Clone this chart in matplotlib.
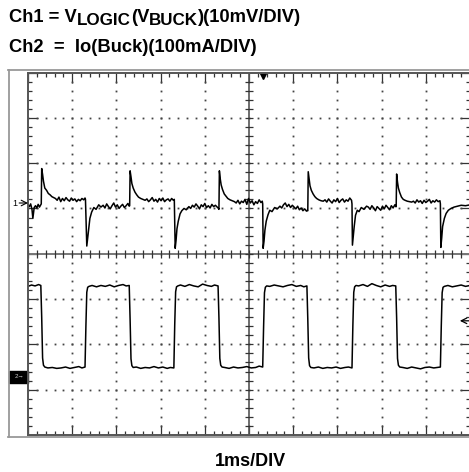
"""
Scope capture: Ch1 = V_LOGIC ripple, Ch2 = buck load current step.
"""

import numpy as np
import matplotlib
matplotlib.use('Agg')
import matplotlib.pyplot as plt
from matplotlib.lines import Line2D
from matplotlib.patches import Rectangle
from matplotlib.ticker import MultipleLocator

plt.rcParams['font.family'] = ['Liberation Sans', 'DejaVu Sans']

W, H = 469, 472  # pixels

# --- data, in divisions (x: 1 div = 1 ms, y: center line = 0) ---
ch1_t = [0.00, 0.03, 0.06, 0.09, 0.11, 0.14, 0.17, 0.20, 0.23, 0.26, 0.29,
         0.30, 0.31, 0.33, 0.35, 0.38, 0.42, 0.46, 0.50, 0.54, 0.58, 0.62,
         0.66, 0.70, 0.74, 0.78, 0.82, 0.86, 0.90, 0.94, 0.98, 1.02, 1.06, 1.10, 1.14, 1.18, 1.22, 1.26, 1.29,
         1.30, 1.32, 1.33, 1.35, 1.37, 1.40, 1.44, 1.49, 1.54, 1.60, 1.65,
         1.70, 1.74, 1.78, 1.82, 1.86, 1.90, 1.94, 1.98, 2.02, 2.06, 2.10, 2.14, 2.18, 2.22, 2.26, 2.29,
         2.30, 2.31, 2.33, 2.35, 2.38, 2.42, 2.46, 2.50, 2.55, 2.60, 2.65,
         2.69, 2.73, 2.77, 2.81, 2.85, 2.89, 2.93, 2.97, 3.01, 3.05, 3.09, 3.13, 3.17, 3.21, 3.25, 3.29, 3.31,
         3.32, 3.33, 3.35, 3.37, 3.40, 3.44, 3.48, 3.53, 3.58, 3.64,
         3.68, 3.72, 3.76, 3.80, 3.84, 3.88, 3.92, 3.96, 4.00, 4.04, 4.08, 4.12, 4.16, 4.20, 4.24, 4.28, 4.31,
         4.32, 4.33, 4.35, 4.37, 4.40, 4.44, 4.48, 4.52, 4.57, 4.62, 4.67,
         4.71, 4.75, 4.79, 4.83, 4.87, 4.91, 4.95, 4.99, 5.03, 5.07, 5.11, 5.15, 5.19, 5.23, 5.27, 5.30,
         5.31, 5.32, 5.34, 5.36, 5.39, 5.43, 5.47, 5.52, 5.58, 5.64,
         5.70, 5.74, 5.78, 5.82, 5.86, 5.90, 5.94, 5.98, 6.02, 6.06, 6.10, 6.14, 6.18, 6.22, 6.26, 6.30, 6.32,
         6.33, 6.34, 6.36, 6.38, 6.41, 6.45, 6.49, 6.53, 6.58, 6.63, 6.68,
         6.72, 6.76, 6.80, 6.84, 6.88, 6.92, 6.96, 7.00, 7.04, 7.08, 7.12, 7.16, 7.20, 7.24, 7.28, 7.32,
         7.33, 7.34, 7.36, 7.38, 7.41, 7.45, 7.49, 7.54, 7.60, 7.66,
         7.70, 7.74, 7.78, 7.82, 7.86, 7.90, 7.94, 7.98, 8.02, 8.06, 8.10, 8.14, 8.18, 8.22, 8.26, 8.30, 8.32,
         8.33, 8.34, 8.36, 8.38, 8.41, 8.45, 8.49, 8.53, 8.58, 8.63, 8.68,
         8.72, 8.76, 8.80, 8.84, 8.88, 8.92, 8.96, 9.00, 9.04, 9.08, 9.12, 9.16, 9.20, 9.24, 9.28, 9.32,
         9.33, 9.34, 9.36, 9.38, 9.42, 9.46, 9.51, 9.57, 9.64, 9.72, 9.80, 9.90, 10.0]
ch1_v = [1.08, 1.04, 1.10, 0.98, 0.78, 1.02, 1.06, 1.01, 1.09, 1.03, 1.08,
         1.10, 1.88, 1.75, 1.60, 1.45, 1.40, 1.33, 1.30, 1.26, 1.24, 1.22,
         1.18, 1.25, 1.15, 1.22, 1.17, 1.24, 1.19, 1.16, 1.23, 1.18, 1.21, 1.15, 1.20, 1.17, 1.22, 1.19, 1.23,
         1.20, 0.50, 0.17, 0.35, 0.55, 0.78, 0.92, 1.02, 0.98, 1.08, 1.03,
         1.07, 1.01, 1.10, 1.04, 0.99, 1.06, 1.12, 1.03, 1.08, 1.00, 1.05, 1.09, 1.02, 1.06, 1.11, 1.05,
         1.06, 1.83, 1.70, 1.55, 1.45, 1.36, 1.30, 1.25, 1.22, 1.20, 1.18,
         1.21, 1.15, 1.19, 1.24, 1.16, 1.20, 1.14, 1.22, 1.17, 1.23, 1.15, 1.19, 1.21, 1.16, 1.22, 1.18, 1.20,
         0.70, 0.12, 0.30, 0.55, 0.72, 0.88, 0.95, 1.00, 0.97, 1.04,
         1.00, 1.07, 1.03, 1.10, 1.05, 0.99, 1.08, 1.04, 1.11, 1.02, 1.06, 1.01, 1.09, 1.04, 1.07, 1.03, 1.00,
         0.98, 1.83, 1.65, 1.52, 1.42, 1.32, 1.27, 1.22, 1.19, 1.17, 1.15,
         1.12, 1.18, 1.10, 1.16, 1.13, 1.20, 1.09, 1.22, 1.12, 1.17, 1.08, 1.15, 1.11, 1.19, 1.13, 1.16,
         1.10, 0.12, 0.28, 0.52, 0.72, 0.86, 0.96, 0.93, 1.02, 0.99,
         1.05, 1.01, 1.08, 1.12, 1.04, 1.09, 1.02, 1.07, 1.03, 0.99, 1.05, 0.97, 1.01, 0.95, 0.99, 0.94, 0.96,
         0.95, 1.81, 1.66, 1.50, 1.40, 1.32, 1.26, 1.22, 1.19, 1.17, 1.16,
         1.19, 1.14, 1.21, 1.16, 1.12, 1.19, 1.15, 1.22, 1.13, 1.18, 1.21, 1.14, 1.19, 1.16, 1.23, 1.18,
         1.10, 0.19, 0.40, 0.60, 0.85, 0.96, 0.93, 1.02, 0.98, 1.05,
         1.03, 0.98, 1.06, 1.01, 0.95, 1.04, 1.00, 0.96, 1.05, 0.99, 1.07, 1.02, 0.97, 1.06, 1.01, 1.08, 1.04,
         1.04, 1.76, 1.58, 1.45, 1.35, 1.25, 1.20, 1.18, 1.16, 1.15, 1.14,
         1.16, 1.12, 1.19, 1.14, 1.17, 1.11, 1.18, 1.13, 1.16, 1.20, 1.12, 1.17, 1.14, 1.19, 1.15, 1.17,
         1.10, 0.14, 0.35, 0.60, 0.78, 0.89, 0.96, 1.00, 1.03, 1.05, 1.07, 1.06, 1.08]

ch2_t = [0.00, 0.08, 0.16, 0.24, 0.29,
         0.31, 0.33, 0.35, 0.38,
         0.45, 0.55, 0.65, 0.75, 0.85, 0.95, 1.05, 1.15, 1.22, 1.29,
         1.31, 1.33, 1.35, 1.38,
         1.45, 1.55, 1.65, 1.75, 1.85, 1.95, 2.05, 2.15, 2.22, 2.29,
         2.31, 2.33, 2.35, 2.38,
         2.45, 2.55, 2.65, 2.75, 2.85, 2.95, 3.05, 3.15, 3.22, 3.30,
         3.32, 3.34, 3.36, 3.39,
         3.45, 3.55, 3.65, 3.75, 3.85, 3.95, 4.05, 4.15, 4.22, 4.30,
         4.32, 4.34, 4.36, 4.39,
         4.45, 4.55, 4.65, 4.75, 4.85, 4.95, 5.05, 5.15, 5.23, 5.31,
         5.33, 5.35, 5.37, 5.40,
         5.47, 5.57, 5.67, 5.77, 5.87, 5.97, 6.07, 6.17, 6.24, 6.31,
         6.33, 6.35, 6.37, 6.40,
         6.47, 6.57, 6.67, 6.77, 6.87, 6.97, 7.07, 7.17, 7.25, 7.33,
         7.35, 7.37, 7.39, 7.42,
         7.48, 7.58, 7.68, 7.78, 7.88, 7.98, 8.08, 8.18, 8.25, 8.32,
         8.34, 8.36, 8.38, 8.41,
         8.48, 8.58, 8.68, 8.78, 8.88, 8.98, 9.08, 9.18, 9.26, 9.33,
         9.35, 9.37, 9.39, 9.42,
         9.50, 9.60, 9.70, 9.80, 9.90, 10.0]
ch2_v = [-0.72, -0.69, -0.71, -0.68, -0.70,
         -1.40, -2.30, -2.46, -2.50,
         -2.52, -2.51, -2.53, -2.52, -2.50, -2.53, -2.51, -2.49, -2.52, -2.50,
         -1.60, -0.85, -0.74, -0.72,
         -0.70, -0.73, -0.70, -0.72, -0.69, -0.73, -0.70, -0.68, -0.71, -0.70,
         -1.45, -2.32, -2.47, -2.51,
         -2.50, -2.53, -2.51, -2.52, -2.49, -2.52, -2.50, -2.53, -2.51, -2.52,
         -1.55, -0.84, -0.73, -0.71,
         -0.69, -0.72, -0.68, -0.71, -0.73, -0.67, -0.70, -0.72, -0.69, -0.71,
         -1.42, -2.31, -2.46, -2.50,
         -2.51, -2.53, -2.50, -2.52, -2.51, -2.49, -2.52, -2.51, -2.48, -2.50,
         -1.62, -0.86, -0.74, -0.71,
         -0.72, -0.69, -0.71, -0.73, -0.70, -0.68, -0.72, -0.70, -0.73, -0.71,
         -1.44, -2.30, -2.47, -2.51,
         -2.52, -2.50, -2.53, -2.51, -2.52, -2.50, -2.53, -2.51, -2.50, -2.52,
         -1.58, -0.85, -0.73, -0.70,
         -0.71, -0.68, -0.72, -0.66, -0.70, -0.73, -0.69, -0.72, -0.70, -0.71,
         -1.41, -2.31, -2.46, -2.50,
         -2.51, -2.53, -2.50, -2.52, -2.54, -2.51, -2.50, -2.52, -2.51, -2.50,
         -1.60, -0.86, -0.74, -0.72,
         -0.70, -0.73, -0.71, -0.69, -0.72, -0.70]

ch1_marker = 1.12     # "1->" reference level
ch2_marker = -2.72    # ch2 ground marker
trig_level = -1.48    # trigger level arrow on the right
trig_pos = 5.31       # trigger position on top

fig = plt.figure(figsize=(W / 100, H / 100), dpi=100)
ax = fig.add_axes([28 / W, 1 - 435 / H, 442 / W, 362.5 / H])
ax.set_xlim(0, 10)
ax.set_ylim(-4, 4)

# border with graticule ticks
for s in ax.spines.values():
    s.set_color('#555555')
    s.set_linewidth(1.4)
ax.xaxis.set_major_locator(MultipleLocator(1))
ax.xaxis.set_minor_locator(MultipleLocator(0.2))
ax.yaxis.set_major_locator(MultipleLocator(1))
ax.yaxis.set_minor_locator(MultipleLocator(0.2))
ax.tick_params(which='both', direction='in', top=True, right=True,
               labelbottom=False, labelleft=False, color='#333333', width=0.9)
ax.tick_params(which='major', length=7)
ax.tick_params(which='minor', length=2.8)

# dotted grid
steps_y = np.arange(-4, 4.001, 0.2)
steps_x = np.arange(0, 10.001, 0.2)
for gx in [1, 2, 3, 4, 6, 7, 8, 9]:
    ax.plot(np.full_like(steps_y, gx), steps_y, ls='none', marker='s', ms=1.3,
            mew=0, color='#444444')
for gy in [-3, -2, -1, 1, 2, 3]:
    ax.plot(steps_x, np.full_like(steps_x, gy), ls='none', marker='s', ms=1.3,
            mew=0, color='#444444')

# center cross with ticks
ax.axhline(0, color='#777777', lw=1.4)
ax.axvline(5, color='#555555', lw=1.2)
ax.plot(steps_x, np.zeros_like(steps_x), ls='none', marker='|', ms=5.5,
        mew=0.9, color='#333333')
ax.plot(np.full_like(steps_y, 5), steps_y, ls='none', marker='_', ms=5.5,
        mew=0.9, color='#333333')

# traces
ax.plot(ch1_t, ch1_v, color='black', lw=1.1)
ax.plot(ch2_t, ch2_v, color='black', lw=1.1)

# markers
ax.plot([trig_pos], [3.93], marker='v', ms=4.5, color='black', clip_on=False)
ax.annotate('', xy=(0, ch1_marker), xytext=(-0.2, ch1_marker),
            arrowprops=dict(arrowstyle='->', lw=0.8, color='black',
                            shrinkA=0, shrinkB=0), annotation_clip=False)
ax.text(-0.24, ch1_marker, '1', fontsize=6.5, ha='right', va='center')
ax.add_patch(Rectangle((-0.43, ch2_marker - 0.13), 0.43, 0.26,
                       color='black', clip_on=False))
ax.text(-0.2, ch2_marker, '2\u2192', fontsize=4.5, color='#cccccc',
        ha='center', va='center')
ax.annotate('', xy=(9.77, trig_level), xytext=(9.98, trig_level),
            arrowprops=dict(arrowstyle='->', lw=0.9, color='black',
                            shrinkA=0, shrinkB=0), annotation_clip=False)

# outer screen frame
frame = dict(color='#999999', lw=1.3, transform=fig.transFigure)
fig.add_artist(Line2D([8.5 / W, 8.5 / W], [1 - 69.5 / H, 1 - 437 / H], **frame))
fig.add_artist(Line2D([8 / W, 1], [1 - 69.5 / H, 1 - 69.5 / H], **frame))
fig.add_artist(Line2D([8 / W, 1], [1 - 437 / H, 1 - 437 / H], **frame))

# header text, subscripts at nearly full size
renderer = fig.canvas.get_renderer()
def put_row(x_px, base_px, pieces, size):
    x = x_px / W
    for s, dy, scale in pieces:
        t = fig.text(x, 1 - (base_px + dy) / H, s, fontsize=size * scale,
                     fontweight='bold', va='baseline')
        x = t.get_window_extent(renderer).x1 / W

put_row(9, 21.5, [('Ch1 = V', 0, 1), ('LOGIC', 3.5, 0.93), ('(V', 0, 1),
                  ('BUCK', 3.5, 0.93), (')(10mV/DIV)', 0, 1)], 13.2)
put_row(9, 51.5, [('Ch2  =  Io(Buck)(100mA/DIV)', 0, 1)], 13.2)
fig.text(250 / W, 1 - 466.5 / H, '1ms/DIV', fontsize=13, fontweight='bold',
         ha='center', va='baseline')

fig.savefig('out.png', dpi=100)
